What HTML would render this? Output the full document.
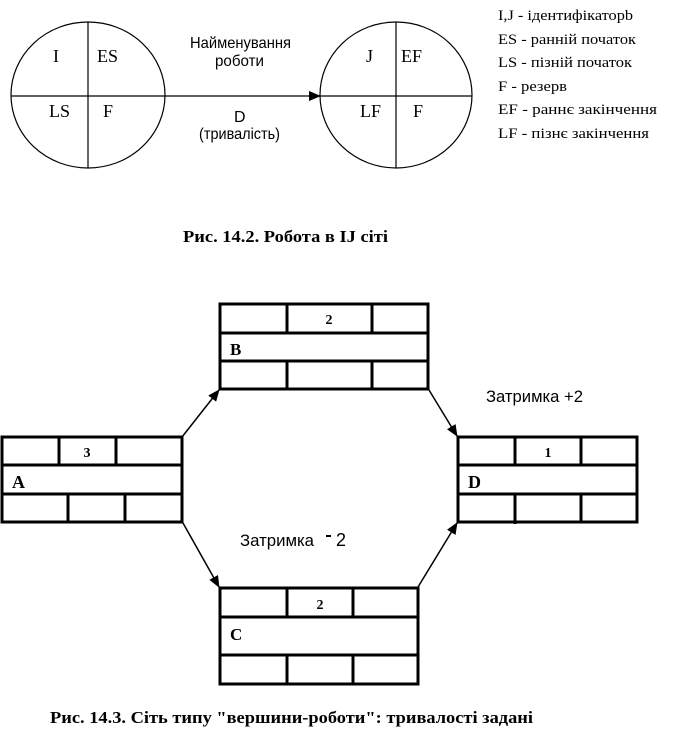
<!DOCTYPE html>
<html><head><meta charset="utf-8"><style>
html,body{margin:0;padding:0;background:#fff;}
svg{display:block;}
text{font-family:"Liberation Serif",serif;fill:#000;}
.n{font-family:"Liberation Sans Narrow","Liberation Sans",sans-serif;}
</style></head><body>
<svg width="675" height="740" viewBox="0 0 675 740" xmlns="http://www.w3.org/2000/svg">
<defs>
<marker id="ah" markerWidth="12" markerHeight="10" refX="11" refY="5" orient="auto" markerUnits="userSpaceOnUse">
<path d="M0,0 L12,5 L0,10 z" fill="#000"/></marker>
</defs>
<ellipse cx="88" cy="95" rx="77" ry="73" fill="none" stroke="#000" stroke-width="1.2"/>
<line x1="88" y1="22" x2="88" y2="168" stroke="#000" stroke-width="1.2"/>
<line x1="11" y1="96" x2="320" y2="96" stroke="#000" stroke-width="1.2" marker-end="url(#ah)"/>
<ellipse cx="396" cy="95" rx="76" ry="73" fill="none" stroke="#000" stroke-width="1.2"/>
<line x1="396" y1="22" x2="396" y2="168" stroke="#000" stroke-width="1.2"/>
<line x1="320" y1="96" x2="472" y2="96" stroke="#000" stroke-width="1.2"/>
<g font-size="18">
<text x="53" y="62">I</text><text x="97" y="62">ES</text>
<text x="49" y="117">LS</text><text x="103" y="117">F</text>
<text x="366" y="62">J</text><text x="401" y="62">EF</text>
<text x="360" y="117">LF</text><text x="413" y="117">F</text>
</g>
<text class="n" x="190" y="48" font-size="16" textLength="101" lengthAdjust="spacingAndGlyphs">Найменування</text>
<text class="n" x="215" y="66" font-size="16" textLength="49" lengthAdjust="spacingAndGlyphs">роботи</text>
<text class="n" x="234" y="122" font-size="16">D</text>
<text class="n" x="199" y="139" font-size="16" textLength="81" lengthAdjust="spacingAndGlyphs">(тривалість)</text>
<g font-size="15">
<text x="498" y="20" textLength="135" lengthAdjust="spacingAndGlyphs">I,J - ідентифікаторb</text>
<text x="498" y="44" textLength="138" lengthAdjust="spacingAndGlyphs">ES - ранній початок</text>
<text x="498" y="67" textLength="134" lengthAdjust="spacingAndGlyphs">LS - пізній початок</text>
<text x="498" y="91" textLength="69" lengthAdjust="spacingAndGlyphs">F - резерв</text>
<text x="498" y="114" textLength="159" lengthAdjust="spacingAndGlyphs">EF  -  раннє закінчення</text>
<text x="498" y="138" textLength="151" lengthAdjust="spacingAndGlyphs">LF -  пізнє закінчення</text>
</g>
<text x="183" y="242" font-size="17" font-weight="bold" textLength="205" lengthAdjust="spacingAndGlyphs">Рис. 14.2. Робота в IJ сіті</text>
<g fill="none" stroke="#000" stroke-width="3">
<rect x="220" y="304" width="208" height="85"/>
<line x1="220" y1="333" x2="428" y2="333"/><line x1="220" y1="361" x2="428" y2="361"/>
<line x1="287" y1="304" x2="287" y2="333"/><line x1="372" y1="304" x2="372" y2="333"/>
<line x1="287" y1="361" x2="287" y2="389"/><line x1="372" y1="361" x2="372" y2="389"/>
<rect x="2" y="437" width="180" height="85"/>
<line x1="2" y1="465" x2="182" y2="465"/><line x1="2" y1="494" x2="182" y2="494"/>
<line x1="59" y1="437" x2="59" y2="465"/><line x1="116" y1="437" x2="116" y2="465"/>
<line x1="68" y1="494" x2="68" y2="522"/><line x1="125" y1="494" x2="125" y2="522"/>
<rect x="458" y="437" width="179" height="85"/>
<line x1="458" y1="465" x2="637" y2="465"/><line x1="458" y1="494" x2="637" y2="494"/>
<line x1="515" y1="437" x2="515" y2="465"/><line x1="581" y1="437" x2="581" y2="465"/>
<line x1="515" y1="494" x2="515" y2="524"/><line x1="581" y1="494" x2="581" y2="522"/>
<rect x="220" y="588" width="198" height="96"/>
<line x1="220" y1="617" x2="418" y2="617"/><line x1="220" y1="655" x2="418" y2="655"/>
<line x1="287" y1="588" x2="287" y2="617"/><line x1="353" y1="588" x2="353" y2="617"/>
<line x1="287" y1="655" x2="287" y2="684"/><line x1="353" y1="655" x2="353" y2="684"/>
</g>
<g stroke="#000" stroke-width="1.5">
<line x1="182" y1="437" x2="219" y2="390" marker-end="url(#ah)"/>
<line x1="429" y1="390" x2="457" y2="436" marker-end="url(#ah)"/>
<line x1="183" y1="523" x2="219" y2="587" marker-end="url(#ah)"/>
<line x1="418" y1="587" x2="457" y2="523" marker-end="url(#ah)"/>
</g>
<g font-weight="bold">
<text x="329" y="324" text-anchor="middle" font-size="14">2</text>
<text x="230" y="355" font-size="17">B</text>
<text x="87" y="457" text-anchor="middle" font-size="14">3</text>
<text x="12" y="488" font-size="18">A</text>
<text x="548" y="457" text-anchor="middle" font-size="14">1</text>
<text x="468" y="488" font-size="18">D</text>
<text x="320" y="609" text-anchor="middle" font-size="14">2</text>
<text x="230" y="640" font-size="17">C</text>
</g>
<text class="n" x="486" y="402" font-size="17" textLength="97" lengthAdjust="spacingAndGlyphs">Затримка +2</text>
<text class="n" x="240" y="546" font-size="17" textLength="74" lengthAdjust="spacingAndGlyphs">Затримка</text>
<rect x="326" y="535" width="5" height="2" fill="#000"/>
<text class="n" x="336" y="546" font-size="18">2</text>
<text x="50" y="723" font-size="17" font-weight="bold" textLength="483" lengthAdjust="spacingAndGlyphs">Рис. 14.3. Сіть типу "вершини-роботи": тривалості задані</text>
</svg>
</body></html>
